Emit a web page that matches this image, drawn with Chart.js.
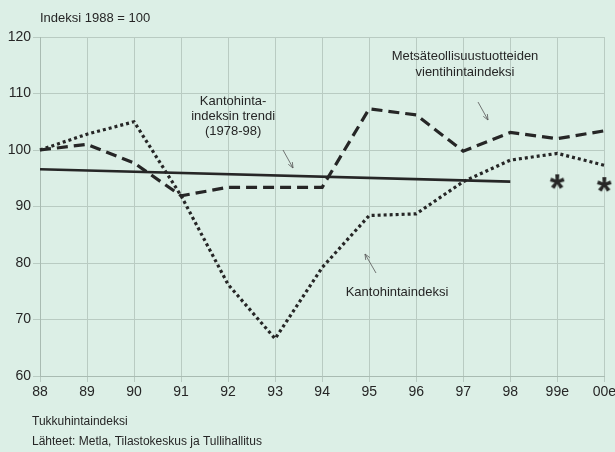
<!DOCTYPE html>
<html>
<head>
<meta charset="utf-8">
<script src="https://cdn.jsdelivr.net/npm/chart.js@4/dist/chart.umd.min.js"></script>
<style>
  html, body { margin: 0; padding: 0; background: #dcefe6; overflow: hidden; }
  #wrap { width: 615px; height: 452px; position: relative; overflow: hidden; }
</style>
</head>
<body>
<div id="wrap"><canvas id="indexChart" width="618" height="452"></canvas></div>
<script>
// vuodet
const years = ['88', '89', '90', '91', '92', '93', '94', '95', '96', '97', '98', '99e', '00e'];

// Metsäteollisuustuotteiden vientihintaindeksi
const exportIndex = [100, 101, 97.7, 91.9, 93.4, 93.4, 93.4, 107.3, 106.2, 99.8, 103.1, 102.0, 103.4];
// Kantohintaindeksi
const stumpageIndex = [100, 102.8, 105, 91.9, 76.2, 66.6, 79.2, 88.4, 88.7, 94.4, 98.2, 99.4, 97.3];
// trendi 1978-98 (suora viiva)
const trendLine = [96.6, null, null, null, null, null, null, null, null, null, 94.4, null, null];
// ennusteiden tähdet
const estimateStars = [null, null, null, null, null, null, null, null, null, null, null, 94.1, 93.6];

const yTicks = [60, 70, 80, 90, 100, 110, 120];

const FONT = '"Liberation Sans", Arial, sans-serif';
const INK = '#262626';

// tähti-kuvake
const star = document.createElement('canvas');
star.width = 26; star.height = 26;
const sc = star.getContext('2d');
sc.fillStyle = INK;
sc.font = 'bold 38px "Liberation Sans", Arial, sans-serif';
sc.textAlign = 'center';
sc.textBaseline = 'middle';
sc.fillText('*', 13, 21);

const annotations = {
  id: 'annotations',
  afterDraw(chart) {
    const c = chart.ctx;
    const x = chart.scales.x;
    c.save();
    c.fillStyle = INK;
    c.font = '13px ' + FONT;
    c.textBaseline = 'middle';
    c.textAlign = 'left';
    c.fillText('Indeksi 1988 = 100', 40, 18);
    c.font = '12px ' + FONT;
    c.fillText('Tukkuhintaindeksi', 32, 422);
    c.fillText('Lähteet: Metla, Tilastokeskus ja Tullihallitus', 32, 442);

    c.font = '13px ' + FONT;
    c.textAlign = 'center';
    const trendX = (x.getPixelForValue(3) + x.getPixelForValue(5)) / 2 + 5;
    c.fillText('Kantohinta-', trendX, 101);
    c.fillText('indeksin trendi', trendX, 116);
    c.fillText('(1978-98)', trendX, 131);
    c.fillText('Metsäteollisuustuotteiden', 465, 56);
    c.fillText('vientihintaindeksi', 465, 72);
    c.fillText('Kantohintaindeksi', 397, 292);

    // nuolet
    function arrow(x1, y1, x2, y2) {
      c.strokeStyle = '#555';
      c.lineWidth = 0.8;
      c.beginPath();
      c.moveTo(x1, y1);
      c.lineTo(x2, y2);
      c.stroke();
      const a = Math.atan2(y2 - y1, x2 - x1);
      c.beginPath();
      c.moveTo(x2, y2);
      c.lineTo(x2 - 6 * Math.cos(a - 0.4), y2 - 6 * Math.sin(a - 0.4));
      c.moveTo(x2, y2);
      c.lineTo(x2 - 6 * Math.cos(a + 0.4), y2 - 6 * Math.sin(a + 0.4));
      c.stroke();
    }
    arrow(283, 150, 293, 168);
    arrow(478, 102, 488, 120);
    arrow(376, 273, 365, 254);
    c.restore();
  }
};

new Chart(document.getElementById('indexChart'), {
  type: 'line',
  data: {
    labels: years,
    datasets: [
      {
        label: 'Metsäteollisuustuotteiden vientihintaindeksi',
        data: exportIndex,
        borderColor: INK,
        borderWidth: 3.2,
        borderDash: [11, 6],
        pointRadius: 0,
        tension: 0,
      },
      {
        label: 'Kantohintaindeksi',
        data: stumpageIndex,
        borderColor: INK,
        borderWidth: 3.2,
        borderDash: [3, 3],
        pointRadius: 0,
        tension: 0,
      },
      {
        label: 'Kantohintaindeksin trendi',
        data: trendLine,
        borderColor: INK,
        borderWidth: 2.6,
        pointRadius: 0,
        spanGaps: true,
      },
      {
        label: 'Ennuste',
        data: estimateStars,
        showLine: false,
        pointStyle: star,
        pointRadius: 12,
      },
    ],
  },
  options: {
    responsive: false,
    animation: false,
    layout: { padding: { top: 37, right: 0, left: 0, bottom: 0 } },
    plugins: {
      legend: { display: false },
      tooltip: { enabled: false },
    },
    scales: {
      x: {
        offset: false,
        grid: { color: '#b9cbc2', lineWidth: 1, tickLength: 6 },
        border: { color: '#a9bbb2' },
        ticks: { color: INK, font: { family: FONT, size: 14 }, padding: 2, maxRotation: 0, autoSkip: false },
        afterFit(s) { s.height = 76; },
      },
      y: {
        min: 60,
        max: 120,
        afterBuildTicks(s) { s.ticks = yTicks.map(v => ({ value: v })); },
        grid: { color: '#b9cbc2', lineWidth: 1, tickLength: 7 },
        border: { color: '#a9bbb2' },
        ticks: { color: INK, font: { family: FONT, size: 14 }, padding: 2 },
        afterFit(s) { s.width = 40; },
      },
    },
  },
  plugins: [annotations],
});
</script>
</body>
</html>
